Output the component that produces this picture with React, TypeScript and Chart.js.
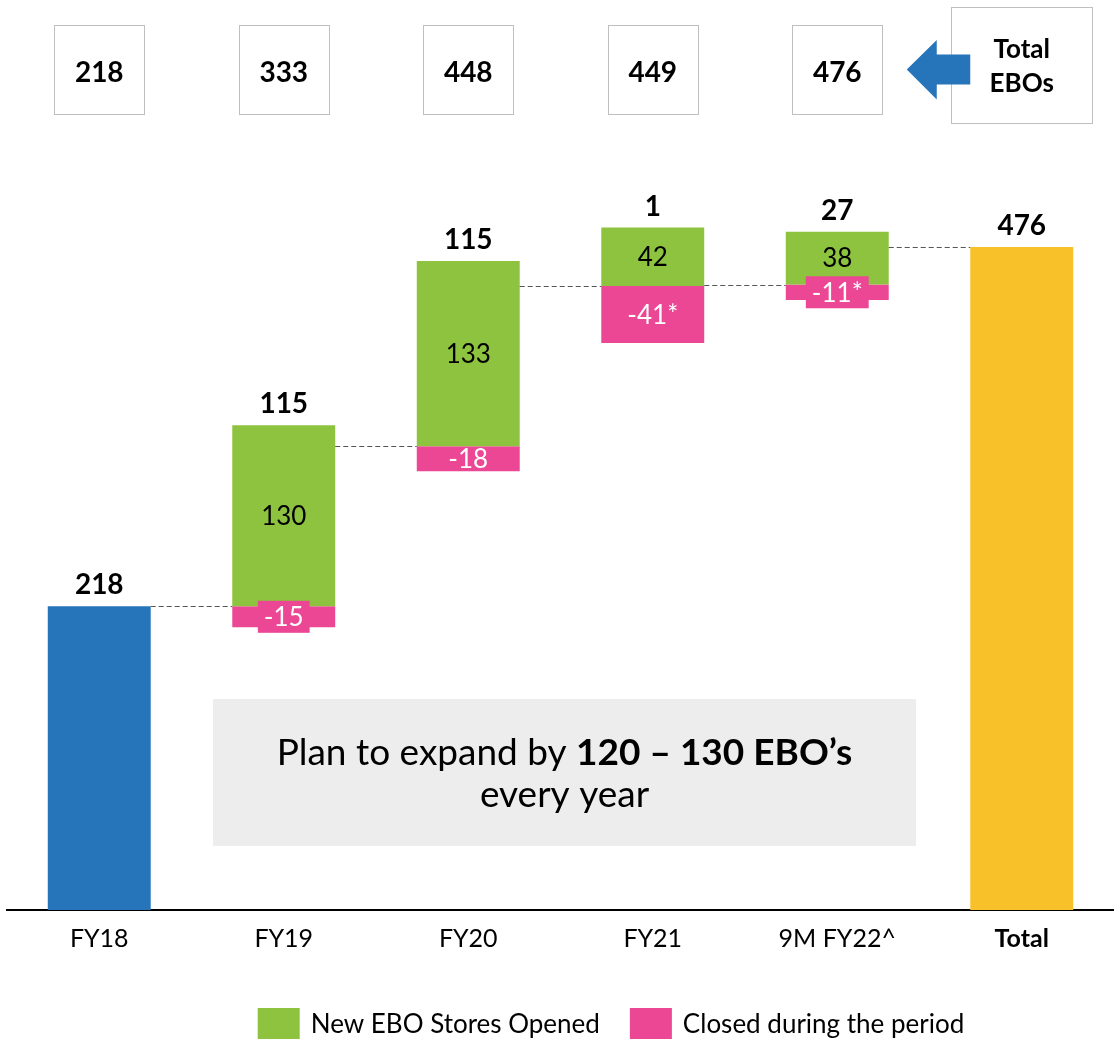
import React, { useEffect, useRef } from "react";
import { Chart, registerables } from "chart.js";

Chart.register(...registerables);

// ---------- data ----------
const categories = ["FY18", "FY19", "FY20", "FY21", "9M FY22^", "Total"];
const openingStores = 218;
const openedStores = [130, 133, 42, 38];
const closedStores = [-15, -18, -41, -11];
const closedNotes = ["", "", "*", "*"];
const totalStores = 476;
const legendLabels = ["New EBO Stores Opened", "Closed during the period"];
const totalBoxLines = ["Total", "EBOs"];
const calloutRegular = "Plan to expand by ";
const calloutBold = "120 \u2013 130 EBO\u2019s";
const calloutLine2 = "every year";

// ---------- style ----------
const FONT = "Lato";
const BLUE = "#2675BA";
const YELLOW = "#F8C12A";
const GREEN = "#8DC33F";
const PINK = "#EB4795";
const BOX_BORDER = "#BFBFBF";
const CALLOUT_BG = "#EDEDED";

// derived series (from the data above)
const netAdded = openedStores.map((o, i) => o + closedStores[i]);
const periodEnd: number[] = [openingStores];
netAdded.forEach((n) => periodEnd.push(periodEnd[periodEnd.length - 1] + n));
const periodStart = periodEnd.slice(0, -1);
const last = categories.length - 1;

const baseData = categories.map((_, i) =>
  i === 0 ? [0, openingStores] : i === last ? [0, totalStores] : null
);
const openedData = categories.map((_, i) =>
  i >= 1 && i < last ? [periodStart[i - 1], periodStart[i - 1] + openedStores[i - 1]] : null
);
const closedData = categories.map((_, i) =>
  i >= 1 && i < last ? [periodStart[i - 1] + closedStores[i - 1], periodStart[i - 1]] : null
);
const baseColors = categories.map((_, i) => (i === last ? YELLOW : BLUE));

function barBox(el: any) {
  const top = Math.min(el.y, el.base);
  const bottom = Math.max(el.y, el.base);
  return { left: el.x - el.width / 2, right: el.x + el.width / 2, top, bottom, cx: el.x };
}

function textCenter(ctx: CanvasRenderingContext2D, text: string, cx: number, cy: number, size: number) {
  ctx.textAlign = "center";
  ctx.textBaseline = "alphabetic";
  ctx.fillText(text, cx, cy + 0.358 * size);
}

const overlayPlugin = {
  id: "overlay",
  beforeDatasetsDraw(chart: any) {
    const ctx: CanvasRenderingContext2D = chart.ctx;
    ctx.save();
    // callout box
    const bx = 213, by = 699, bw = 703, bh = 147;
    ctx.fillStyle = CALLOUT_BG;
    ctx.fillRect(bx, by, bw, bh);
    const size = 37;
    const fReg = `${size}px ${FONT}`;
    const fBold = `bold ${size}px ${FONT}`;
    ctx.font = fReg;
    const w1 = ctx.measureText(calloutRegular).width;
    ctx.font = fBold;
    const w2 = ctx.measureText(calloutBold).width;
    const cx = bx + bw / 2;
    const x0 = cx - (w1 + w2) / 2;
    ctx.fillStyle = "#000";
    ctx.textBaseline = "alphabetic";
    ctx.textAlign = "left";
    ctx.font = fReg;
    ctx.fillText(calloutRegular, x0, 765);
    ctx.font = fBold;
    ctx.fillText(calloutBold, x0 + w1, 765);
    ctx.font = fReg;
    ctx.textAlign = "center";
    ctx.fillText(calloutLine2, cx, 807);
    ctx.restore();
  },
  afterDatasetsDraw(chart: any) {
    const ctx: CanvasRenderingContext2D = chart.ctx;
    const yScale = chart.scales.y;
    const xScale = chart.scales.x;
    const baseMeta = chart.getDatasetMeta(0);
    const openMeta = chart.getDatasetMeta(1);
    const closeMeta = chart.getDatasetMeta(2);
    const elFor = (i: number) => (i === 0 || i === last ? baseMeta.data[i] : openMeta.data[i]);

    ctx.save();
    // connectors
    ctx.strokeStyle = "#555555";
    ctx.lineWidth = 1;
    ctx.setLineDash([5, 3]);
    for (let i = 0; i < last; i++) {
      const a = barBox(elFor(i));
      const b = barBox(elFor(i + 1));
      const yp = Math.round(yScale.getPixelForValue(periodEnd[i])) + 0.5;
      ctx.beginPath();
      ctx.moveTo(a.right, yp);
      ctx.lineTo(b.left, yp);
      ctx.stroke();
    }
    ctx.setLineDash([]);

    const big = 28;
    const small = 26;
    // base bars (FY18, Total)
    [0, last].forEach((i) => {
      const bb = barBox(baseMeta.data[i]);
      ctx.fillStyle = "#000";
      ctx.font = `bold ${big}px ${FONT}`;
      ctx.textAlign = "center";
      ctx.textBaseline = "alphabetic";
      ctx.fillText(String(i === 0 ? openingStores : totalStores), bb.cx, bb.top - 12);
    });
    // opened bars
    for (let i = 1; i < last; i++) {
      const bb = barBox(openMeta.data[i]);
      ctx.fillStyle = "#000";
      ctx.font = `${small}px ${FONT}`;
      textCenter(ctx, String(openedStores[i - 1]), bb.cx, (bb.top + bb.bottom) / 2, small);
      ctx.font = `bold ${big}px ${FONT}`;
      ctx.textAlign = "center";
      ctx.fillText(String(netAdded[i - 1]), bb.cx, bb.top - 12);
    }
    // closed bars
    for (let i = 1; i < last; i++) {
      const bb = barBox(closeMeta.data[i]);
      const label = String(closedStores[i - 1]) + closedNotes[i - 1];
      ctx.font = `${small}px ${FONT}`;
      const cy = (bb.top + bb.bottom) / 2;
      if (bb.bottom - bb.top < 23) {
        const tw = ctx.measureText(label).width;
        ctx.fillStyle = PINK;
        ctx.fillRect(bb.cx - tw / 2 - 6, cy - 16, tw + 12, 32);
      }
      ctx.fillStyle = "#FFFFFF";
      textCenter(ctx, label, bb.cx, cy, small);
    }
    ctx.restore();

    // ---- top boxes ----
    ctx.save();
    ctx.strokeStyle = BOX_BORDER;
    ctx.lineWidth = 1;
    for (let i = 0; i < last; i++) {
      const cx = xScale.getPixelForValue(i);
      ctx.strokeRect(Math.round(cx - 45) + 0.5, 25.5, 90, 89);
      ctx.fillStyle = "#000";
      ctx.font = `bold ${big}px ${FONT}`;
      ctx.textAlign = "center";
      ctx.textBaseline = "alphabetic";
      ctx.fillText(String(periodEnd[i]), cx, 81.5);
    }
    const tcx = xScale.getPixelForValue(last);
    ctx.strokeRect(Math.round(tcx - 70.5) + 0.5, 7.5, 141, 116);
    // arrow
    ctx.fillStyle = BLUE;
    ctx.beginPath();
    ctx.moveTo(tcx - 115, 69.5);
    ctx.lineTo(tcx - 85, 40);
    ctx.lineTo(tcx - 85, 54.5);
    ctx.lineTo(tcx - 51.5, 54.5);
    ctx.lineTo(tcx - 51.5, 84.5);
    ctx.lineTo(tcx - 85, 84.5);
    ctx.lineTo(tcx - 85, 99.5);
    ctx.closePath();
    ctx.fill();
    ctx.fillStyle = "#000";
    ctx.font = `bold 26px ${FONT}`;
    ctx.textAlign = "center";
    ctx.fillText(totalBoxLines[0], tcx, 57.5);
    ctx.fillText(totalBoxLines[1], tcx, 92);

    // ---- legend ----
    const lsize = 26;
    ctx.font = `${lsize}px ${FONT}`;
    const boxW = 42, boxH = 31, gapBT = 11, gapItems = 30;
    const widths = legendLabels.map((t) => ctx.measureText(t).width);
    const total = boxW * 2 + gapBT * 2 + widths[0] + widths[1] + gapItems;
    let x = 611 - total / 2;
    const colors = [GREEN, PINK];
    ctx.textAlign = "left";
    ctx.textBaseline = "alphabetic";
    legendLabels.forEach((t, k) => {
      ctx.fillStyle = colors[k];
      ctx.fillRect(x, 1008, boxW, boxH);
      x += boxW + gapBT;
      ctx.fillStyle = "#000";
      ctx.fillText(t, x, 1023.5 + 0.358 * lsize);
      x += widths[k] + gapItems;
    });
    ctx.restore();
  },
};

export default function App() {
  const ref = useRef<HTMLCanvasElement | null>(null);
  useEffect(() => {
    if (!ref.current) return;
    const chart = new Chart(ref.current, {
      type: "bar",
      data: {
        labels: categories,
        datasets: [
          { label: "Base", data: baseData as any, backgroundColor: baseColors, borderWidth: 0 },
          { label: legendLabels[0], data: openedData as any, backgroundColor: GREEN, borderWidth: 0 },
          { label: legendLabels[1], data: closedData as any, backgroundColor: PINK, borderWidth: 0 },
        ],
      },
      options: {
        responsive: false,
        animation: false,
        devicePixelRatio: 1,
        categoryPercentage: 1,
        barPercentage: 0.558,
        layout: { padding: { top: 130, left: 7, right: 0, bottom: 85 } },
        plugins: {
          legend: { display: false },
          tooltip: { enabled: false },
          title: { display: false },
        },
        scales: {
          x: {
            stacked: true,
            z: 1,
            grid: { display: false, drawTicks: false },
            border: { display: true, color: "#000000", width: 2 },
            ticks: {
              color: "#000",
              padding: 14,
              maxRotation: 0,
              autoSkip: false,
              font: (c: any) => ({ family: FONT, size: 25, weight: c.index === last ? "bold" : "normal" }),
            },
            afterFit: (scale: any) => {
              scale.height = 50;
            },
          },
          y: {
            stacked: false,
            display: false,
            min: 0,
            max: 560,
          },
        },
      } as any,
      plugins: [overlayPlugin],
    });
    return () => chart.destroy();
  }, []);

  return (
    <div style={{ position: "absolute", left: 0, top: 0, width: 1114, height: 1045, background: "#fff" }}>
      <canvas ref={ref} width={1114} height={1045} style={{ display: "block", width: 1114, height: 1045 }} />
    </div>
  );
}
